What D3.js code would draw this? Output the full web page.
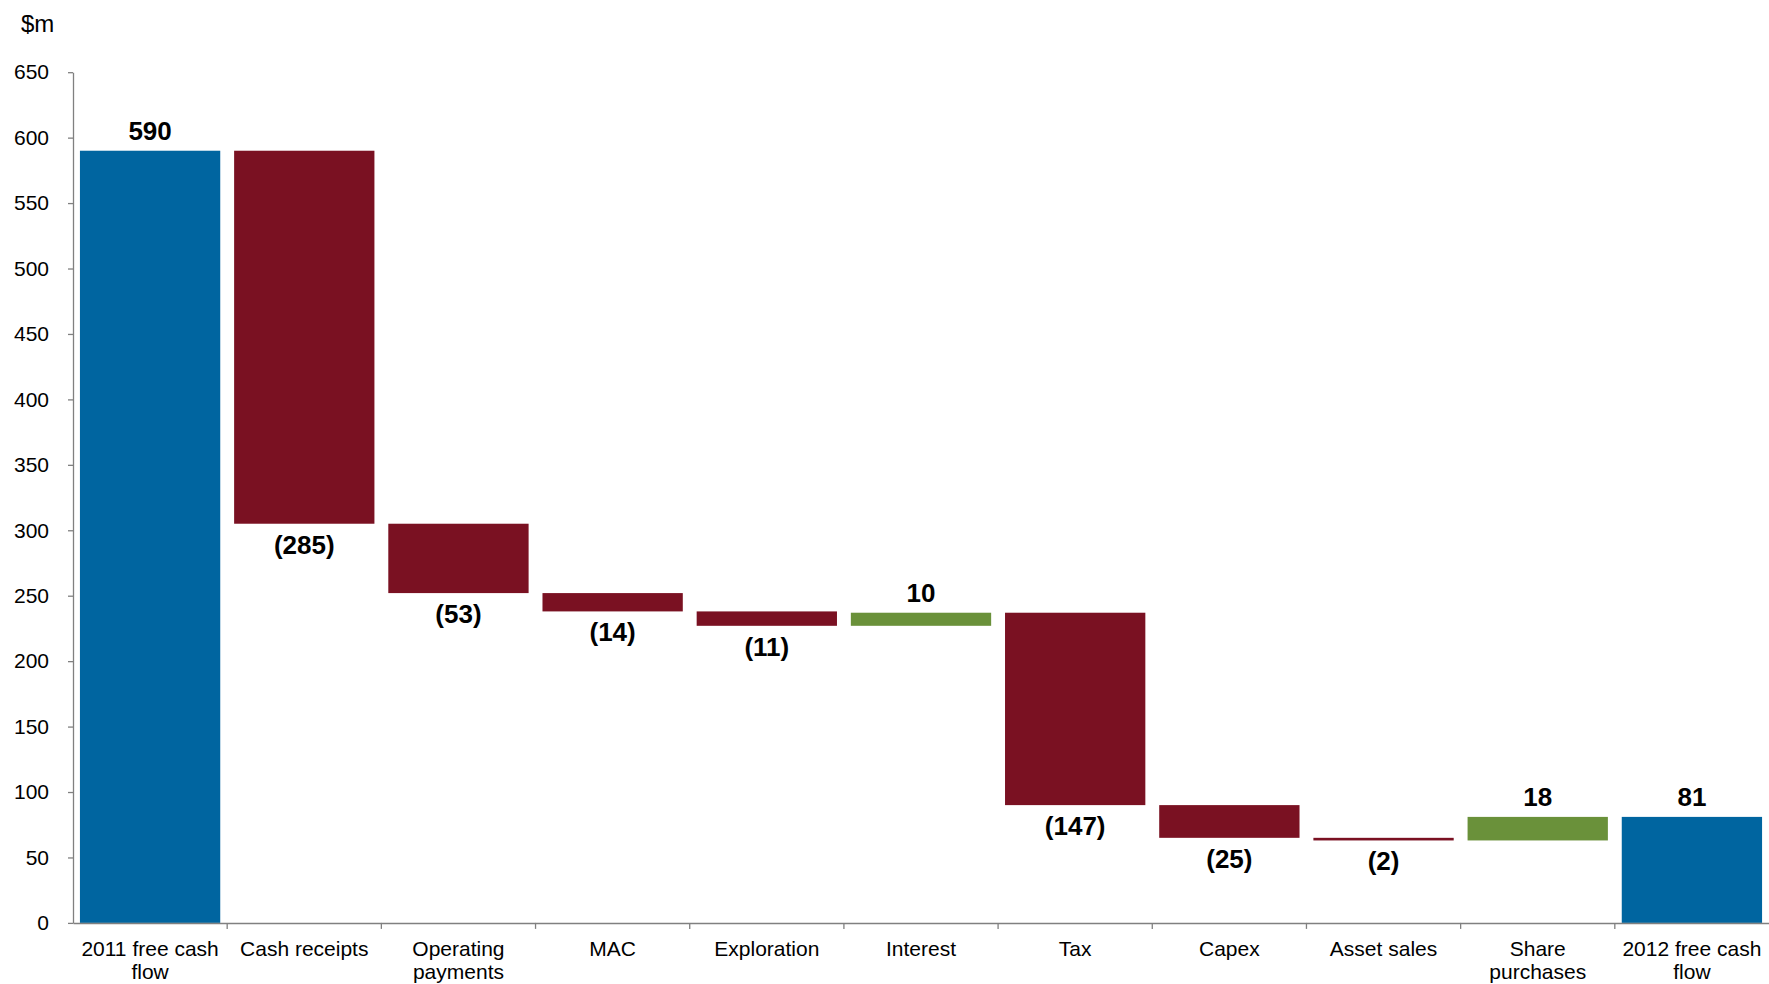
<!DOCTYPE html>
<html><head><meta charset="utf-8">
<script src="https://cdn.jsdelivr.net/npm/d3@7"></script>
<style>
html,body{margin:0;padding:0;background:#fff;}
svg{display:block;font-family:"Liberation Sans",Arial,sans-serif;}
</style></head>
<body>
<svg id="chart" width="1769" height="984"></svg>
<script>
// ---- data ----
const categories = ["2011 free cash flow","Cash receipts","Operating payments","MAC","Exploration","Interest","Tax","Capex","Asset sales","Share purchases","2012 free cash flow"];
const values = [590, -285, -53, -14, -11, 10, -147, -25, -2, 18, 81];
const kinds = ["total","delta","delta","delta","delta","delta","delta","delta","delta","delta","total"];
const yTicks = [0,50,100,150,200,250,300,350,400,450,500,550,600,650];
const unitLabel = "$m";

(function(){
// ---- build waterfall ----
let run = 0;
const bars = categories.map((c,i)=>{
  const v = values[i];
  let y0, y1;
  if (kinds[i]==="total"){ y0 = 0; y1 = v; run = v; }
  else { y0 = run; y1 = run + v; run = y1; }
  return {cat:c, v, kind:kinds[i], lo:Math.min(y0,y1), hi:Math.max(y0,y1)};
});

const svg = d3.select("#chart");
const mLeft = 73, mRight = 1769, mTop = 72.2, mBottom = 922.9;
const x = d3.scaleBand().domain(categories).range([mLeft,mRight]).paddingInner(0.09).paddingOuter(0.045);
const y = d3.scaleLinear().domain([0,650]).range([mBottom, mTop]);

const colors = {total:"#0065A0", neg:"#7A1122", pos:"#6A913A"};
const colorOf = d=> d.kind==="total" ? colors.total : (d.v<0 ? colors.neg : colors.pos);

// bars
svg.append("g").selectAll("rect").data(bars).join("rect")
  .attr("x", d=>x(d.cat)).attr("width", x.bandwidth())
  .attr("y", d=>y(d.hi)).attr("height", d=>Math.max(2, y(d.lo)-y(d.hi)))
  .attr("fill", colorOf);

// y axis
const yAxis = d3.axisLeft(y).tickValues(yTicks).tickSize(5).tickPadding(19).tickSizeOuter(0);
const gy = svg.append("g").attr("transform",`translate(${mLeft},0)`).call(yAxis);
gy.select(".domain").attr("stroke","#808080").attr("stroke-width",1.3);
gy.selectAll(".tick line").attr("stroke","#808080").attr("stroke-width",1.3);
gy.selectAll(".tick text").attr("font-size","21px").attr("fill","#000")
  .attr("font-family","'Liberation Sans',Arial,sans-serif");

// x axis
const xAxis = d3.axisBottom(x).tickSize(0).tickSizeOuter(0).tickPadding(0);
const gx = svg.append("g").attr("transform",`translate(0,${mBottom})`).call(xAxis);
gx.select(".domain").attr("stroke","#808080").attr("stroke-width",1.5);
gx.selectAll(".tick text").remove();
// category boundary ticks
const bounds = categories.map(c=>x(c) - x.step()*x.paddingInner()/2).slice(1);
gx.selectAll(".bound").data(bounds).join("line").attr("class","bound")
  .attr("x1",d=>d).attr("x2",d=>d).attr("y1",0).attr("y2",6)
  .attr("stroke","#808080").attr("stroke-width",1.3);

// category labels (wrapped)
function wrapLines(text, width, fontPx){
  const words = text.split(" ");
  const ctx = document.createElement("canvas").getContext("2d");
  ctx.font = `${fontPx}px "Liberation Sans", Arial, sans-serif`;
  const lines = []; let line = "";
  words.forEach(w=>{
    const t = line ? line+" "+w : w;
    if (ctx.measureText(t).width > width && line){ lines.push(line); line = w; }
    else line = t;
  });
  if (line) lines.push(line);
  return lines;
}
const catG = svg.append("g");
categories.forEach(c=>{
  const cx = x(c) + x.bandwidth()/2;
  const lines = wrapLines(c, x.step()-6, 21);
  const t = catG.append("text").attr("text-anchor","middle").attr("font-size","21px").attr("fill","#000");
  lines.forEach((l,i)=> t.append("tspan").attr("x",cx).attr("y",956 + i*23).text(l));
});

// value labels
svg.append("g").selectAll("text").data(bars).join("text")
  .attr("x", d=>x(d.cat)+x.bandwidth()/2)
  .attr("y", d=> d.v<0 ? y(d.lo)+30 : y(d.hi)-11)
  .attr("text-anchor","middle").attr("font-size","26px").attr("font-weight","bold").attr("fill","#000")
  .text(d=> d.v<0 ? `(${Math.abs(d.v)})` : d.v);

// unit label
svg.append("text").attr("x",21).attr("y",32).attr("font-size","24px").attr("fill","#000").text(unitLabel);
})();
</script>
</body></html>
